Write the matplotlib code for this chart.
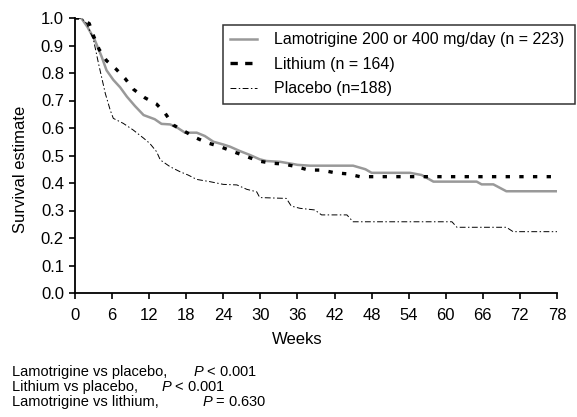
import matplotlib
matplotlib.use("Agg")
import matplotlib.pyplot as plt

plt.rcParams['font.family'] = ['Liberation Sans', 'DejaVu Sans']
plt.rcParams['mathtext.fontset'] = 'custom'
plt.rcParams['mathtext.it'] = 'Liberation Sans:italic'
plt.rcParams['mathtext.rm'] = 'Liberation Sans'

# Kaplan-Meier estimates (weeks, survival)
lam_weeks = [0, 1, 2, 3.2, 4.3, 5.1, 6.2, 7.3, 8.4, 9.7, 11.1, 12.9, 14.0, 15.4, 16.5,
             17.8, 19.7, 21, 22.4, 24, 25.1, 26.7, 28.3, 29.9, 31, 33.2, 35.3, 36, 38,
             45, 47, 48, 54.2, 56.1, 58, 65, 65.8, 67.7, 69.8, 78]
lam_surv = [1.0, 1.0, 0.968, 0.92, 0.86, 0.81, 0.775, 0.748, 0.714, 0.68, 0.647, 0.632,
            0.615, 0.613, 0.602, 0.583, 0.583, 0.571, 0.55, 0.54, 0.532, 0.516, 0.502,
            0.486, 0.48, 0.477, 0.469, 0.466, 0.463, 0.463, 0.45, 0.437, 0.437, 0.429,
            0.405, 0.405, 0.395, 0.395, 0.37, 0.37]

li_weeks = [0, 0.5, 2.3, 3, 3.9, 5.1, 6.7, 8.1, 9.5, 11.3, 13.2, 14.6, 15.9, 17.8, 19.4,
            21.3, 23.5, 25.6, 27.8, 29.7, 31.8, 33.8, 35.9, 37.8, 39.9, 42.1, 44.2, 46.1, 78]
li_surv = [1.0, 1.0, 0.98, 0.935, 0.886, 0.845, 0.813, 0.78, 0.74, 0.71, 0.687, 0.653,
           0.611, 0.587, 0.566, 0.547, 0.532, 0.514, 0.496, 0.48, 0.472, 0.469, 0.459,
           0.447, 0.447, 0.437, 0.433, 0.423, 0.423]

pl_weeks = [0, 1, 1.9, 3.0, 3.8, 4.9, 5.7, 6.2, 7.8, 9.4, 11.1, 12.1, 13.2, 13.8, 15.4,
            17, 18.3, 19.7, 21.8, 24, 26.2, 27.8, 29.4, 29.9, 34.2, 35, 36.4, 38.8, 39.9,
            44, 45, 61, 61.8, 69.8, 70.9, 78]
pl_surv = [1.0, 1.0, 0.98, 0.92, 0.835, 0.726, 0.665, 0.635, 0.617, 0.593, 0.563, 0.544,
           0.514, 0.484, 0.459, 0.441, 0.429, 0.413, 0.405, 0.395, 0.393, 0.377, 0.368,
           0.347, 0.344, 0.316, 0.308, 0.302, 0.284, 0.284, 0.259, 0.259, 0.239, 0.239,
           0.223, 0.223]

labels = ["Lamotrigine 200 or 400 mg/day (n = 223)", "Lithium (n = 164)", "Placebo (n=188)"]
xticks = list(range(0, 79, 6))
yticks = [i / 10 for i in range(11)]

comparisons = ["Lamotrigine vs placebo,", "Lithium vs placebo,", "Lamotrigine vs lithium,"]
pvalues = ["< 0.001", "< 0.001", "= 0.630"]

W, H = 577, 417
fig = plt.figure(figsize=(W / 100, H / 100), dpi=100)
ax = fig.add_axes([75 / W, 1 - 293 / H, (557 - 75) / W, (293 - 18) / H])

ax.plot(lam_weeks, lam_surv, color='#999999', lw=1.8, label=labels[0])
ax.plot(li_weeks, li_surv, color='black', lw=2.4, dashes=(1.3, 2.8), label=labels[1])
ax.plot(pl_weeks, pl_surv, color='black', lw=0.7, dashes=(6, 2.5, 1.5, 2.5), label=labels[2])

ax.set_xlim(0, 78)
ax.set_ylim(0, 1.0)
ax.set_xticks(xticks)
ax.set_yticks(yticks)
ax.set_yticklabels([f"{v:.1f}" for v in yticks])
ax.spines['top'].set_visible(False)
ax.spines['right'].set_visible(False)
for s in ['left', 'bottom']:
    ax.spines[s].set_linewidth(1.3)
ax.tick_params(direction='out', length=4.5, width=1.2, labelsize=12)
ax.tick_params(axis='x', pad=6)
ax.tick_params(axis='y', pad=3.5)
ax.set_xlabel("Weeks", fontsize=12, va='center')
ax.set_ylabel("Survival estimate", fontsize=12, va='center')
ax.xaxis.set_label_coords((297 - 75) / 482, (293 - 340) / 275)
ax.yaxis.set_label_coords((20 - 75) / 482, (293 - 169.5) / 275)

leg = ax.legend(loc='upper left', bbox_to_anchor=(223 / W, 1 - 25 / H, (575 - 223) / W, 0),
                bbox_transform=fig.transFigure, mode='expand', borderaxespad=0,
                fontsize=11.5, frameon=True, fancybox=False, handlelength=1.7,
                handletextpad=1.05, labelspacing=0.6, borderpad=0.45)
leg.get_frame().set_edgecolor('black')
leg.get_frame().set_linewidth(1.1)
leg.get_lines()[1].set_dashes((2.2, 2.2))

p_x = [193, 161, 202]
for i, (c, p) in enumerate(zip(comparisons, pvalues)):
    y = 1 - (372 + 15 * i) / H
    fig.text(12 / W, y, c, fontsize=10.5, va='center')
    fig.text(p_x[i] / W, y, r"$P$ " + p, fontsize=10.5, va='center')

fig.savefig("out.png", dpi=100)
